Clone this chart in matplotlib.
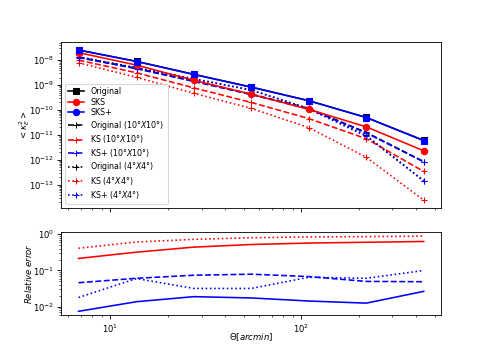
import matplotlib
matplotlib.use("Agg")
import matplotlib.pyplot as plt
from matplotlib.lines import Line2D

# angular scales (arcmin)
theta = [6.8, 13.7, 27.3, 54.7, 109.4, 218.8, 437.5]

# <kappa_E^2> for each method
orig = [2.55e-8, 8.9e-9, 2.7e-9, 8.3e-10, 2.36e-10, 5.0e-11, 6.0e-12]
sks = [2.0e-8, 6.3e-9, 1.55e-9, 4.3e-10, 1.05e-10, 2.1e-11, 2.3e-12]
sksp = [2.53e-8, 8.8e-9, 2.65e-9, 8.15e-10, 2.33e-10, 4.95e-11, 5.85e-12]
orig10 = [1.32e-8, 4.7e-9, 1.45e-9, 4.3e-10, 1.15e-10, 1.25e-11, 8.5e-13]
ks10 = [1.0e-8, 3.1e-9, 7.7e-10, 2.0e-10, 4.5e-11, 7.0e-12, 3.4e-13]
ksp10 = [1.27e-8, 4.5e-9, 1.4e-9, 4.1e-10, 1.1e-10, 1.2e-11, 8.2e-13]
orig4 = [1.35e-8, 5.0e-9, 1.75e-9, 6.2e-10, 1.15e-10, 9.5e-12, 1.45e-13]
ks4 = [7.8e-9, 2.04e-9, 4.7e-10, 1.15e-10, 1.95e-11, 1.26e-12, 2.4e-14]
ksp4 = [1.32e-8, 4.7e-9, 1.8e-9, 6.4e-10, 1.08e-10, 8.9e-12, 1.4e-13]

# relative errors
err_sks = [0.215, 0.32, 0.44, 0.52, 0.57, 0.60, 0.63]
err_ks4 = [0.41, 0.61, 0.72, 0.80, 0.84, 0.86, 0.88]
err_ksp10 = [0.046, 0.061, 0.074, 0.079, 0.068, 0.050, 0.049]
err_ksp4 = [0.018, 0.060, 0.032, 0.032, 0.065, 0.061, 0.10]
err_sksp = [0.0075, 0.0138, 0.019, 0.0175, 0.0144, 0.0126, 0.0266]

plt.rcParams['font.size'] = 8

fig, (ax, ax2) = plt.subplots(2, 1, sharex=True, figsize=(6.4, 4.6237), dpi=76.5625,
                              gridspec_kw={'height_ratios': [2, 1]})

ax.plot(theta, orig, 'k-s')
ax.plot(theta, orig10, 'k--+')
ax.plot(theta, orig4, 'k:+')
ax.plot(theta, ks10, 'r--+')
ax.plot(theta, ks4, 'r:+')
ax.plot(theta, ksp10, 'b--+')
ax.plot(theta, ksp4, 'b:+')
ax.plot(theta, sks, 'r-o')
ax.plot(theta, sksp, 'b-s')
ax.set_xscale('log')
ax.set_yscale('log')
ax.set_ylabel(r'$<\kappa_E^2>$', labelpad=-3)

# legend built by hand
handles = [
    Line2D([], [], color='k', ls='-', marker='s'),
    Line2D([], [], color='r', ls='-', marker='o'),
    Line2D([], [], color='b', ls='-', marker='o'),
    Line2D([], [], color='k', ls='--', marker='+'),
    Line2D([], [], color='r', ls='--', marker='+'),
    Line2D([], [], color='b', ls='--', marker='+'),
    Line2D([], [], color='k', ls=':', marker='+'),
    Line2D([], [], color='r', ls=':', marker='+'),
    Line2D([], [], color='b', ls=':', marker='+'),
]
labels = ['Original', 'SKS', 'SKS+',
          'Original (10°$X$10°)', 'KS (10°$X$10°)', 'KS+ (10°$X$10°)',
          'Original (4°$X$4°)', 'KS (4°$X$4°)', 'KS+ (4°$X$4°)']
ax.legend(handles, labels, loc='lower left', fontsize=7.4, labelspacing=0.2)

ax2.plot(theta, err_ks4, 'r:')
ax2.plot(theta, err_sks, 'r-')
ax2.plot(theta, err_ksp10, 'b--')
ax2.plot(theta, err_ksp4, 'b:')
ax2.plot(theta, err_sksp, 'b-')
ax2.set_yscale('log')
ax2.set_ylabel(r'$Relative\ error$', labelpad=-1)
ax2.set_xlabel(r'$\Theta[arcmin]$', labelpad=-3)

plt.savefig('out.png')
